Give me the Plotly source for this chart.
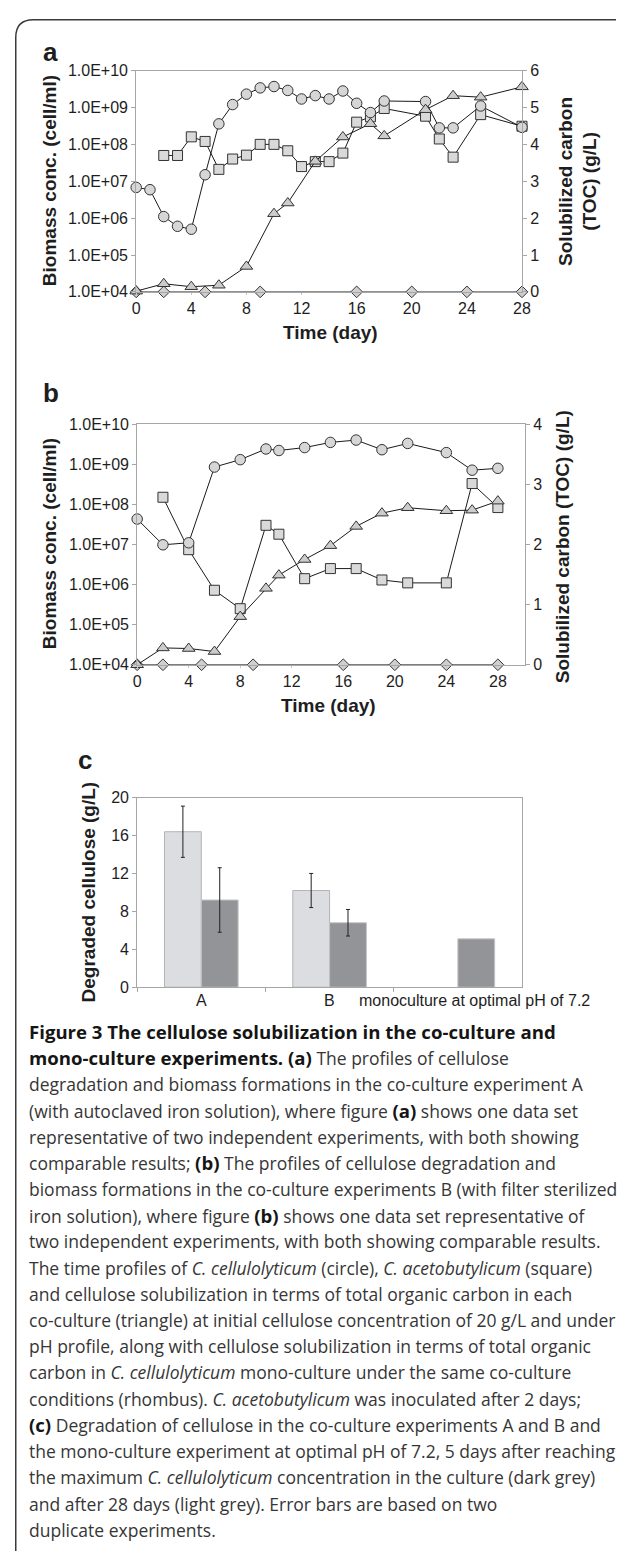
import plotly.graph_objects as go

# ---------------- data ----------------
# Panel a (experiment A)
a_circle_day = [0, 1, 2, 3, 4, 5, 6, 7, 8, 9, 10, 11, 12, 13, 14, 15, 16, 17, 18, 21, 22, 23, 25, 28]
a_circle = [6.8e6, 5.9e6, 1.1e6, 6.0e5, 5.0e5, 1.5e7, 3.6e8, 1.2e9, 2.3e9, 3.4e9, 3.7e9, 2.9e9,
            1.7e9, 2.1e9, 1.7e9, 2.8e9, 1.3e9, 7.3e8, 1.5e9, 1.45e9, 2.8e8, 2.8e8, 1.1e9, 2.9e8]
a_square_day = [2, 3, 4, 5, 6, 7, 8, 9, 10, 11, 12, 13, 14, 15, 16, 17, 18, 21, 22, 23, 25, 28]
a_square = [5.0e7, 5.0e7, 1.6e8, 1.2e8, 2.1e7, 4.0e7, 5.1e7, 1.0e8, 1.0e8, 6.7e7, 2.5e7, 3.4e7,
            3.4e7, 5.8e7, 4.0e8, 5.6e8, 9.4e8, 5.8e8, 1.4e8, 4.5e7, 6.4e8, 3.1e8]
a_tri_day = [0, 2, 4, 6, 8, 10, 11, 13, 15, 17, 18, 21, 23, 25, 28]
a_tri = [0.02, 0.22, 0.14, 0.18, 0.69, 2.12, 2.41, 3.54, 4.20, 4.56, 4.23, 4.94, 5.32, 5.28, 5.56]
a_dia_day = [0, 2, 5, 9, 16, 20, 24, 28]
a_dia = [0, 0, 0, 0, 0, 0, 0, 0]

# Panel b (experiment B)
b_circle_day = [0, 2, 4, 6, 8, 10, 11, 13, 15, 17, 19, 21, 24, 26, 28]
b_circle = [4.3e7, 9.8e6, 1.1e7, 8.5e8, 1.3e9, 2.4e9, 2.2e9, 2.6e9, 3.5e9, 4.0e9, 2.3e9, 3.3e9,
            1.95e9, 7.1e8, 7.9e8]
b_square_day = [2, 4, 6, 8, 10, 11, 13, 15, 17, 19, 21, 24, 26, 28]
b_square = [1.5e8, 7.4e6, 7.2e5, 2.5e5, 3.0e7, 1.8e7, 1.4e6, 2.5e6, 2.5e6, 1.3e6, 1.1e6, 1.1e6,
            3.3e8, 8.3e7]
b_tri_day = [0, 2, 4, 6, 8, 10, 11, 13, 15, 17, 19, 21, 24, 26, 28]
b_tri = [0.0, 0.28, 0.27, 0.22, 0.80, 1.27, 1.49, 1.75, 1.98, 2.30, 2.52, 2.61, 2.56, 2.57, 2.72]
b_dia_day = [0, 2, 5, 9, 16, 20, 24, 28]
b_dia = [0, 0, 0, 0, 0, 0, 0, 0]

# Panel c
c_categories = ["A", "B", "monoculture at optimal pH of 7.2"]
c_after28 = [16.4, 10.2]          # light grey (A, B)
c_after28_err = [2.7, 1.8]
c_after5 = [9.2, 6.8]             # dark grey (A, B)
c_after5_err = [3.4, 1.4]
c_mono_after5 = [5.1]             # dark grey, monoculture (no error bar)

log_ticks = [1e4, 1e5, 1e6, 1e7, 1e8, 1e9, 1e10]
log_ticktext = ["1.0E+04", "1.0E+05", "1.0E+06", "1.0E+07", "1.0E+08", "1.0E+09", "1.0E+10"]
day_ticks = [0, 4, 8, 12, 16, 20, 24, 28]

caption_lines = [
    "<b>Figure 3 The cellulose solubilization in the co-culture and</b>",
    "<b>mono-culture experiments. (a)</b> The profiles of cellulose",
    "degradation and biomass formations in the co-culture experiment A",
    "(with autoclaved iron solution), where figure <b>(a)</b> shows one data set",
    "representative of two independent experiments, with both showing",
    "comparable results; <b>(b)</b> The profiles of cellulose degradation and",
    "biomass formations in the co-culture experiments B (with filter sterilized",
    "iron solution), where figure <b>(b)</b> shows one data set representative of",
    "two independent experiments, with both showing comparable results.",
    "The time profiles of <i>C. cellulolyticum</i> (circle), <i>C. acetobutylicum</i> (square)",
    "and cellulose solubilization in terms of total organic carbon in each",
    "co-culture (triangle) at initial cellulose concentration of 20 g/L and under",
    "pH profile, along with cellulose solubilization in terms of total organic",
    "carbon in <i>C. cellulolyticum</i> mono-culture under the same co-culture",
    "conditions (rhombus). <i>C. acetobutylicum</i> was inoculated after 2 days;",
    "<b>(c)</b> Degradation of cellulose in the co-culture experiments A and B and",
    "the mono-culture experiment at optimal pH of 7.2, 5 days after reaching",
    "the maximum <i>C. cellulolyticum</i> concentration in the culture (dark grey)",
    "and after 28 days (light grey). Error bars are based on two",
    "duplicate experiments.",
]

# ---------------- styling helpers ----------------
W, H = 625, 1560
FONT = "Liberation Sans, Arial, sans-serif"
AXC = "#a6a6a6"
TXT = "#1e1e1e"


def px(x):
    return x / W


def py(y):
    return 1 - y / H


def series(xs, ys, symbol, size, fill, xa, ya):
    return go.Scatter(
        x=xs, y=ys, mode="lines+markers", xaxis=xa, yaxis=ya, cliponaxis=False,
        line=dict(color="#1a1a1a", width=1),
        marker=dict(symbol=symbol, size=size, color=fill, line=dict(color="#333333", width=1)),
        hoverinfo="skip",
    )


fig = go.Figure()

# Panel a
fig.add_trace(series(a_dia_day, a_dia, "diamond", 9, "#cfcfcf", "x", "y2"))
fig.add_trace(series(a_tri_day, a_tri, "triangle-up", 11, "#cccccc", "x", "y2"))
fig.add_trace(series(a_square_day, a_square, "square", 10, "#d9d9d9", "x", "y"))
fig.add_trace(series(a_circle_day, a_circle, "circle", 10.5, "#d6d6d6", "x", "y"))

# Panel b
fig.add_trace(series(b_dia_day, b_dia, "diamond", 9, "#cfcfcf", "x2", "y4"))
fig.add_trace(series(b_tri_day, b_tri, "triangle-up", 11, "#cccccc", "x2", "y4"))
fig.add_trace(series(b_square_day, b_square, "square", 10, "#d9d9d9", "x2", "y3"))
fig.add_trace(series(b_circle_day, b_circle, "circle", 10.5, "#d6d6d6", "x2", "y3"))

# Panel c
BW = 0.287
light_style = dict(color="#dcdde0", line=dict(color="#b4b4b4", width=1))
dark_style = dict(color="#939498", line=dict(color="#c4c4c4", width=1))
err_style = dict(type="data", color="#222222", thickness=1, width=2)
fig.add_trace(go.Bar(
    x=c_categories[:2], y=c_after28, xaxis="x3", yaxis="y5", offset=-BW, width=BW,
    marker=light_style, error_y=dict(array=c_after28_err, **err_style), hoverinfo="skip",
))
fig.add_trace(go.Bar(
    x=c_categories[:2], y=c_after5, xaxis="x3", yaxis="y5", offset=0, width=BW,
    marker=dark_style, error_y=dict(array=c_after5_err, **err_style), hoverinfo="skip",
))
fig.add_trace(go.Bar(
    x=c_categories[2:], y=c_mono_after5, xaxis="x3", yaxis="y5", offset=0, width=BW,
    marker=dark_style, hoverinfo="skip",
))

tickfont = dict(family=FONT, size=16, color=TXT)
common = dict(showgrid=False, zeroline=False, showline=True, linecolor=AXC, linewidth=1,
              ticks="outside", ticklen=4, tickcolor=AXC, tickfont=tickfont)
xcommon = {**common, "ticklen": 2, "tickcolor": "#c8c8c8"}

fig.update_layout(
    width=W, height=H, margin=dict(l=0, r=0, t=0, b=0),
    paper_bgcolor="white", plot_bgcolor="white", showlegend=False,
    barmode="overlay",
    xaxis=dict(domain=[px(135), px(529)], anchor="y", range=[0, 28], tickvals=day_ticks,
               mirror=True, **xcommon),
    yaxis=dict(domain=[py(287), py(63.3)], anchor="x", type="log", range=[4, 10],
               tickvals=log_ticks, ticktext=log_ticktext, **common),
    yaxis2=dict(domain=[py(287), py(63.3)], anchor="x", overlaying="y", side="right",
                range=[0, 6], dtick=1, **common),
    xaxis2=dict(domain=[px(136), px(532)], anchor="y3", range=[0, 30.1], tickvals=day_ticks,
                mirror=True, **xcommon),
    yaxis3=dict(domain=[py(664), py(420.7)], anchor="x2", type="log", range=[4, 10],
                tickvals=log_ticks, ticktext=log_ticktext, **common),
    yaxis4=dict(domain=[py(664), py(420.7)], anchor="x2", overlaying="y3", side="right",
                range=[0, 4], dtick=1, **common),
    xaxis3=dict(domain=[px(136), px(529)], anchor="y5", type="category", mirror=True,
                categoryorder="array", categoryarray=c_categories, range=[-0.5, 2.5],
                tickson="boundaries", showticklabels=False, **common),
    yaxis5=dict(domain=[py(990), py(798.3)], anchor="x3", range=[0, 20], dtick=4,
                mirror=True, **common),
)

ann = []
bold_title = dict(family=FONT, size=19, color=TXT)


def label(text, x, y, font, angle=0, xanchor="center", yanchor="middle"):
    ann.append(dict(text=text, x=px(x), y=py(y), xref="paper", yref="paper", showarrow=False,
                    textangle=angle, xanchor=xanchor, yanchor=yanchor, font=font))


letter_font = dict(family=FONT, size=26, color=TXT)
label("<b>a</b>", 47, 44, letter_font)
label("<b>b</b>", 48, 389, letter_font)
label("<b>c</b>", 83, 760, letter_font)

label("<b>Biomass conc. (cell/ml)</b>", 46, 175, bold_title, angle=-90)
label("<b>Solubilized carbon<br>(TOC) (g/L)</b>", 586, 175, bold_title, angle=-90)
label("<b>Time (day)</b>", 333, 328, bold_title)

label("<b>Biomass conc. (cell/ml)</b>", 46, 542, bold_title, angle=-90)
label("<b>Solubilized carbon (TOC) (g/L)</b>", 570, 545, bold_title, angle=-90)
label("<b>Time (day)</b>", 331, 705, bold_title)

label("<b>Degraded cellulose (g/L)</b>", 86, 894, bold_title, angle=-90)

# category labels for panel c
for i, cat in enumerate(c_categories):
    ann.append(dict(text=cat, x=cat, y=py(1003), xref="x3", yref="paper", showarrow=False,
                    xanchor="center", yanchor="middle",
                    xshift=17 if i == 2 else 0,
                    font=dict(family=FONT, size=16, color=TXT)))

cap_font = dict(family="Open Sans, Noto Sans, sans-serif", size=17.5, color="#363636")
for i, line in enumerate(caption_lines):
    styled = line.replace("<b>", "<b><span style='font-size:18.6px;fill:#151515'>").replace("</b>", "</span></b>")
    label(styled, 23, 1035 + 26.5 * i, cap_font, xanchor="left")

fig.update_layout(annotations=ann)

# rounded frame (top-left corner)
fig.add_shape(type="path", xref="paper", yref="paper",
              path=f"M {px(12)},{py(1560)} L {px(12)},{py(30)} Q {px(12)},{py(12)} {px(30)},{py(12)} L {px(625)},{py(12)}",
              line=dict(color="#3a3a3a", width=1.5))

fig.write_html("out.html")
